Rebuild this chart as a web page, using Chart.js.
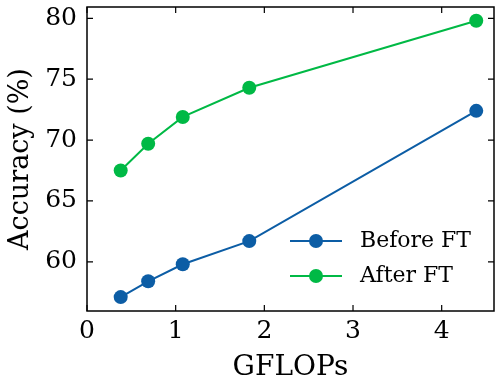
<!DOCTYPE html>
<html lang="en">
<head>
  <meta charset="UTF-8" />
  <title>Accuracy vs GFLOPs</title>
  <script src="https://cdn.jsdelivr.net/npm/chart.js"></script>
  <style>
    body {
      margin: 0;
      padding: 0;
      background: #ffffff;
    }
    .wrap {
      width: 501px;
      height: 389px;
    }
  </style>
</head>
<body>
  <div class="wrap"><canvas id="accChart"></canvas></div>

  <script>
    // data
    const gflops = [0.38, 0.69, 1.08, 1.83, 4.39];
    const beforeFT = [57.1, 58.4, 59.8, 61.7, 72.4];
    const afterFT = [67.5, 69.7, 71.9, 74.3, 79.8];
    const seriesNames = ['Before FT', 'After FT'];
    const xTicks = [0, 1, 2, 3, 4];
    const yTicks = [60, 65, 70, 75, 80];

    const FONT = "'DejaVu Serif', serif";
    const BLUE = '#0C5DA5';
    const GREEN = '#00B945';

    function toPoints(ys) {
      return gflops.map((x, i) => ({ x: x, y: ys[i] }));
    }

    // frame + inward ticks on all four sides, and a line+marker legend
    const framePlugin = {
      id: 'frame',
      afterDraw(chart) {
        const ctx = chart.ctx;
        const a = chart.chartArea;
        const xs = chart.scales.x, ys = chart.scales.y;
        const len = 6;
        ctx.save();
        ctx.strokeStyle = '#000';
        ctx.lineWidth = 1.5;
        ctx.strokeRect(a.left, a.top, a.right - a.left, a.bottom - a.top);
        ctx.lineWidth = 1.2;
        ctx.beginPath();
        xTicks.forEach(v => {
          const px = xs.getPixelForValue(v);
          ctx.moveTo(px, a.bottom); ctx.lineTo(px, a.bottom - len);
          ctx.moveTo(px, a.top); ctx.lineTo(px, a.top + len);
        });
        yTicks.forEach(v => {
          const py = ys.getPixelForValue(v);
          ctx.moveTo(a.left, py); ctx.lineTo(a.left + len, py);
          ctx.moveTo(a.right, py); ctx.lineTo(a.right - len, py);
        });
        ctx.stroke();

        // legend
        const lx = 290, lw = 52, tx = 360;
        const rows = [241, 276];
        chart.data.datasets.forEach((ds, i) => {
          const y = rows[i];
          ctx.strokeStyle = ds.borderColor;
          ctx.lineWidth = 2;
          ctx.beginPath();
          ctx.moveTo(lx, y); ctx.lineTo(lx + lw, y);
          ctx.stroke();
          ctx.fillStyle = ds.backgroundColor;
          ctx.beginPath();
          ctx.arc(lx + lw / 2, y, 7, 0, Math.PI * 2);
          ctx.fill();
          ctx.fillStyle = '#000';
          ctx.font = '22px ' + FONT;
          ctx.textBaseline = 'middle';
          ctx.textAlign = 'left';
          ctx.fillText(ds.label, tx, y);
        });
        ctx.restore();
      }
    };

    const ctx = document.getElementById('accChart').getContext('2d');
    new Chart(ctx, {
      type: 'line',
      data: {
        datasets: [
          {
            label: seriesNames[0],
            data: toPoints(beforeFT),
            borderColor: BLUE,
            backgroundColor: BLUE,
            borderWidth: 2,
            pointRadius: 7,
            pointHoverRadius: 7,
            pointBorderWidth: 0
          },
          {
            label: seriesNames[1],
            data: toPoints(afterFT),
            borderColor: GREEN,
            backgroundColor: GREEN,
            borderWidth: 2,
            pointRadius: 7,
            pointHoverRadius: 7,
            pointBorderWidth: 0
          }
        ]
      },
      options: {
        responsive: true,
        maintainAspectRatio: false,
        animation: false,
        layout: { padding: { top: 7, right: 7, left: 0, bottom: 0 } },
        plugins: {
          legend: { display: false },
          tooltip: { enabled: false }
        },
        scales: {
          x: {
            type: 'linear',
            min: 0,
            max: 4.59,
            afterBuildTicks: s => { s.ticks = xTicks.map(v => ({ value: v })); },
            afterFit: s => { s.height = 78; s.paddingLeft = 0; s.paddingRight = 0; },
            grid: { display: false, drawTicks: false },
            border: { display: false },
            ticks: {
              color: '#000',
              padding: 5,
              maxRotation: 0,
              font: { family: FONT, size: 25 }
            },
            title: {
              display: true,
              text: 'GFLOPs',
              color: '#000',
              padding: { top: 0, bottom: 4 },
              font: { family: FONT, size: 28 }
            }
          },
          y: {
            type: 'linear',
            min: 55.96,
            max: 80.93,
            afterBuildTicks: s => { s.ticks = yTicks.map(v => ({ value: v })); },
            afterFit: s => { s.width = 87; s.paddingTop = 0; s.paddingBottom = 0; },
            grid: { display: false, drawTicks: false },
            border: { display: false },
            ticks: {
              color: '#000',
              padding: 10,
              font: { family: FONT, size: 25 }
            },
            title: {
              display: true,
              text: 'Accuracy (%)',
              color: '#000',
              padding: { top: 5, bottom: 0 },
              font: { family: FONT, size: 27 }
            }
          }
        }
      },
      plugins: [framePlugin]
    });
  </script>
</body>
</html>
